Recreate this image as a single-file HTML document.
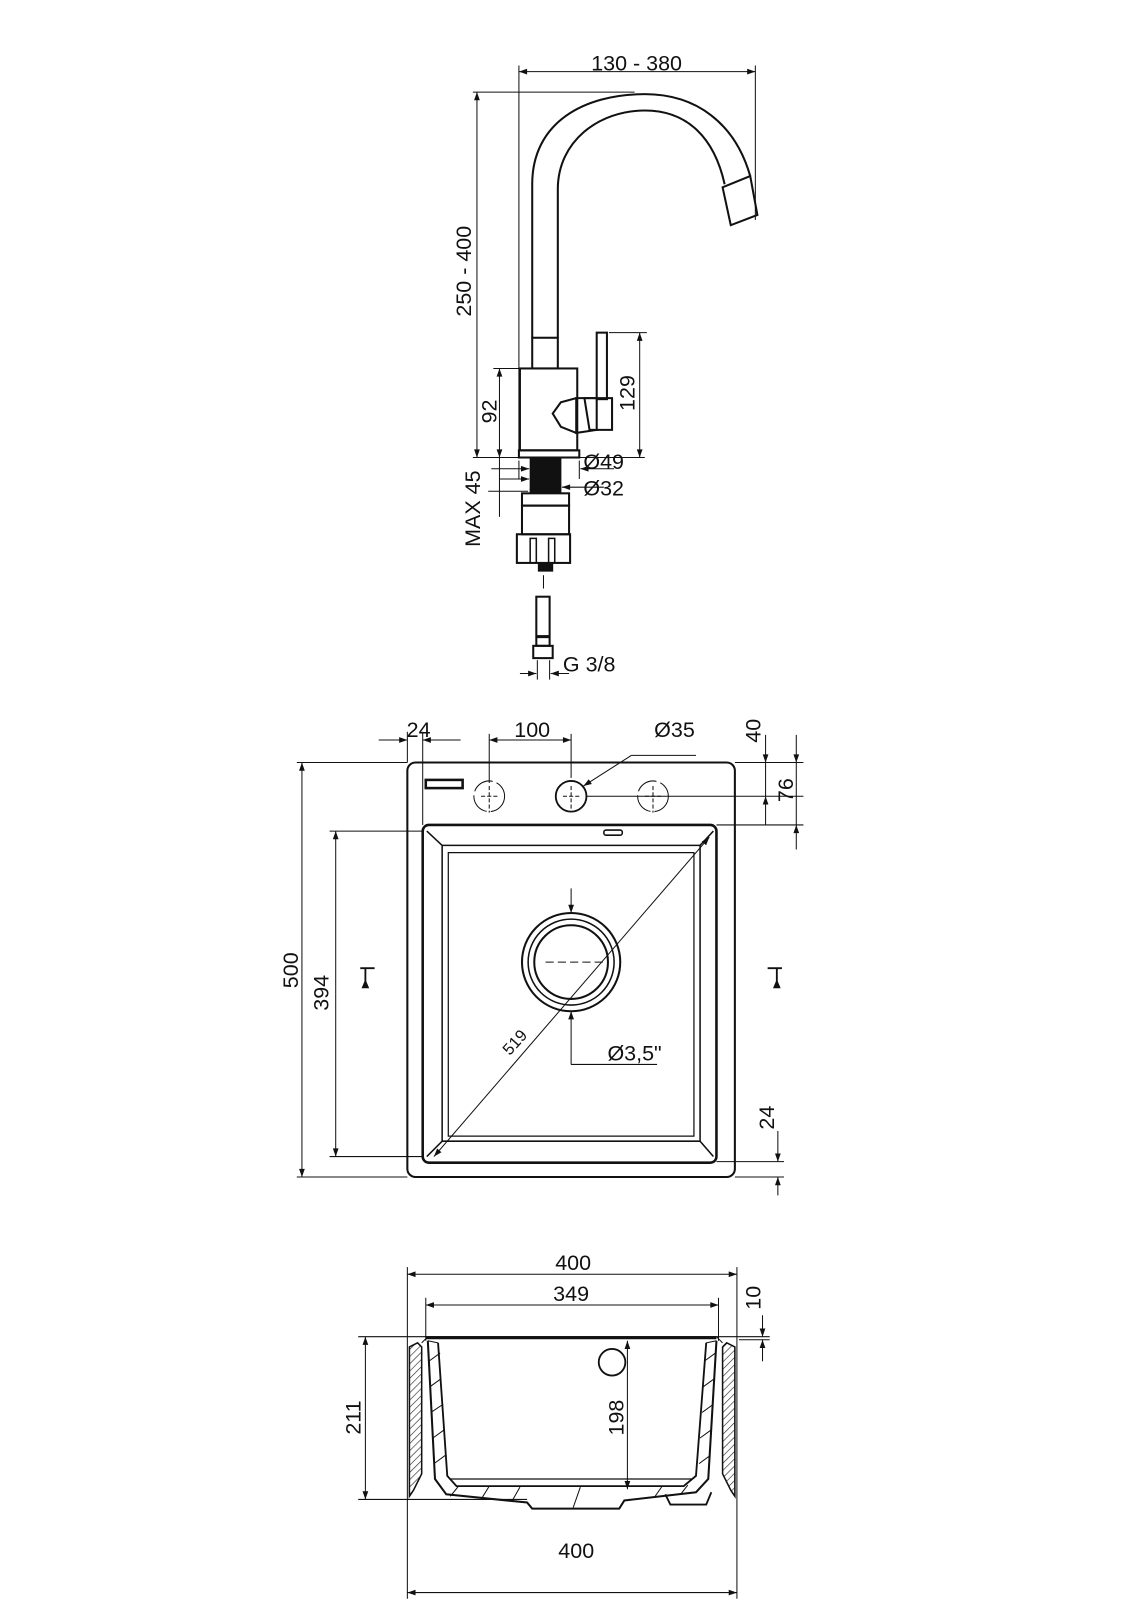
<!DOCTYPE html>
<html><head><meta charset="utf-8"><style>
html,body{margin:0;padding:0;background:#fff}
svg{display:block}
text{font-family:"Liberation Sans Narrow","Liberation Sans",sans-serif;font-size:21px;fill:#111}
</style></head><body>
<svg width="1131" height="1600" viewBox="0 0 1131 1600" xmlns="http://www.w3.org/2000/svg">
<defs>
<marker id="a" viewBox="0 0 10 10" refX="10" refY="5" markerWidth="12" markerHeight="8" orient="auto-start-reverse" markerUnits="userSpaceOnUse"><path d="M0,1.5 L10,5 L0,8.5 z" fill="#111"/></marker>
<pattern id="h" width="5" height="5" patternUnits="userSpaceOnUse" patternTransform="rotate(45)"><line x1="0" y1="0" x2="0" y2="5" stroke="#222" stroke-width="1.2"/></pattern>
</defs>
<g transform="scale(1.0235)">
<g stroke="#111" fill="none" stroke-width="1">
<!-- ===== FAUCET ===== -->
<line x1="507" y1="64" x2="507" y2="440"/>
<line x1="738" y1="64" x2="738" y2="215"/>
<line x1="507" y1="70" x2="738" y2="70" marker-start="url(#a)" marker-end="url(#a)"/>
<line x1="462" y1="90" x2="620" y2="90"/>
<line x1="466" y1="90" x2="466" y2="447" marker-start="url(#a)" marker-end="url(#a)"/>
<line x1="462" y1="447" x2="630" y2="447"/>
<line x1="482" y1="360" x2="508" y2="360"/>
<line x1="488" y1="360" x2="488" y2="447" marker-start="url(#a)" marker-end="url(#a)"/>
<line x1="595" y1="325" x2="632" y2="325"/>
<line x1="625" y1="325" x2="625" y2="447" marker-start="url(#a)" marker-end="url(#a)"/>
<path d="M520,330 L520,180 C520,120 570,92 630,92 C680,92 718,120 733,172" stroke-width="2"/>
<path d="M545,330 L545,185 C545,138 585,108 630,108 C672,108 698,135 708,180" stroke-width="2"/>
<path d="M706,183 L733,172 L740,210 L714,220 Z" stroke-width="2"/>
<rect x="520" y="330" width="25" height="30" stroke-width="2"/>
<rect x="508" y="360" width="56" height="80" stroke-width="2"/>
<rect x="507" y="440" width="59" height="7" stroke-width="2"/>
<rect x="583" y="325" width="10" height="65" stroke-width="2"/>
<path d="M563,389 L583,389 L583,420 L563,423 Z" stroke-width="2"/>
<path d="M571,389 L598,389 L598,420 L576,420 Z" stroke-width="2"/>
<path d="M563,389 L548,393 L540,404 L548,417 L563,423" stroke-width="2"/>
<rect x="518" y="448" width="30" height="30" fill="#111"/>
<line x1="480" y1="458" x2="517" y2="458" marker-end="url(#a)"/>
<line x1="567" y1="458" x2="600" y2="458" marker-start="url(#a)"/>
<line x1="488" y1="468" x2="517" y2="468" marker-end="url(#a)"/>
<line x1="549" y1="476" x2="590" y2="476" marker-start="url(#a)"/>
<line x1="507" y1="450" x2="507" y2="468"/>
<line x1="566" y1="450" x2="566" y2="468"/>
<line x1="477" y1="480" x2="516" y2="480"/>
<line x1="488" y1="447" x2="488" y2="505"/>
<rect x="518" y="478" width="30" height="4" fill="#111"/>
<rect x="510" y="482" width="46" height="12" stroke-width="2"/>
<rect x="510" y="494" width="46" height="28" stroke-width="2"/>
<rect x="505" y="522" width="52" height="28" stroke-width="2"/>
<path d="M518,550 L518,526 L524,526 L524,550 M536,550 L536,526 L542,526 L542,550" stroke-width="1.5"/>
<rect x="526" y="550" width="14" height="8" fill="#111"/>
<line x1="531" y1="562" x2="531" y2="575"/>
<rect x="524" y="583" width="13" height="48" stroke-width="2"/>
<line x1="524" y1="622" x2="537" y2="622" stroke-width="3"/>
<rect x="521" y="631" width="19" height="12" stroke-width="2"/>
<line x1="525" y1="645" x2="525" y2="664"/><line x1="537" y1="645" x2="537" y2="664"/>
<line x1="508" y1="658" x2="524" y2="658" marker-end="url(#a)"/>
<line x1="538" y1="658" x2="556" y2="658" marker-start="url(#a)"/>

<!-- ===== TOP VIEW ===== -->
<rect x="398" y="745" width="320" height="405" rx="8" stroke-width="2"/>
<rect x="413" y="806" width="287" height="330" rx="6" stroke-width="2.5"/>
<path d="M432,826 L684,826 L684,1115 L432,1115 Z" stroke-width="1.5"/>
<path d="M438,833 L678,833 L678,1110 L438,1110 Z" stroke-width="1.2"/>
<path d="M417,812 L432,826 M697,812 L684,826 M417,1130 L432,1115 M697,1130 L684,1115" stroke-width="1.5"/>
<rect x="590" y="811" width="18" height="5" rx="2" stroke-width="1.5"/>
<rect x="416" y="762" width="36" height="8" stroke-width="2.5"/>
<circle cx="478" cy="778" r="15" stroke-dasharray="22 4"/>
<circle cx="558" cy="778" r="15" stroke-width="1.8"/>
<circle cx="638" cy="778" r="15" stroke-dasharray="22 4"/>
<path d="M470,778 L486,778 M478,768 L478,794 M550,778 L566,778 M558,768 L558,790 M630,778 L646,778 M638,768 L638,794" stroke-dasharray="4 2"/>
<line x1="572" y1="778" x2="785" y2="778"/>
<circle cx="558" cy="940" r="48" stroke-width="2"/>
<circle cx="558" cy="940" r="42" stroke-width="1.5"/>
<circle cx="558" cy="940" r="36" stroke-width="2"/>
<line x1="533" y1="940" x2="592" y2="940" stroke-dasharray="8 4"/>
<line x1="558" y1="868" x2="558" y2="892" marker-end="url(#a)"/>
<line x1="558" y1="1040" x2="558" y2="988" marker-end="url(#a)"/>
<line x1="558" y1="1040" x2="642" y2="1040"/>
<line x1="424" y1="1130" x2="693" y2="818" marker-start="url(#a)" marker-end="url(#a)"/>
<line x1="290" y1="745" x2="398" y2="745"/>
<line x1="290" y1="1150" x2="398" y2="1150"/>
<line x1="295" y1="745" x2="295" y2="1150" marker-start="url(#a)" marker-end="url(#a)"/>
<line x1="322" y1="812" x2="414" y2="812"/>
<line x1="322" y1="1130" x2="414" y2="1130"/>
<line x1="328" y1="812" x2="328" y2="1130" marker-start="url(#a)" marker-end="url(#a)"/>
<line x1="398" y1="715" x2="398" y2="745"/>
<line x1="413" y1="715" x2="413" y2="806"/>
<line x1="370" y1="723" x2="398" y2="723" marker-end="url(#a)"/>
<line x1="450" y1="723" x2="413" y2="723" marker-end="url(#a)"/>
<line x1="478" y1="717" x2="478" y2="765"/>
<line x1="558" y1="717" x2="558" y2="760"/>
<line x1="478" y1="723" x2="558" y2="723" marker-start="url(#a)" marker-end="url(#a)"/>
<line x1="680" y1="738" x2="617" y2="738"/>
<line x1="617" y1="738" x2="570" y2="768" marker-end="url(#a)"/>
<line x1="718" y1="745" x2="785" y2="745"/>
<line x1="700" y1="806" x2="785" y2="806"/>
<line x1="748" y1="718" x2="748" y2="745" marker-end="url(#a)"/>
<line x1="748" y1="745" x2="748" y2="778"/>
<line x1="748" y1="806" x2="748" y2="778" marker-end="url(#a)"/>
<line x1="778" y1="718" x2="778" y2="745" marker-end="url(#a)"/>
<line x1="778" y1="745" x2="778" y2="806"/>
<line x1="778" y1="830" x2="778" y2="806" marker-end="url(#a)"/>
<line x1="700" y1="1135" x2="766" y2="1135"/>
<line x1="718" y1="1150" x2="766" y2="1150"/>
<line x1="760" y1="1105" x2="760" y2="1135" marker-end="url(#a)"/>
<line x1="760" y1="1168" x2="760" y2="1150" marker-end="url(#a)"/>
<path d="M352,946 L366,946 M357,946 L357,965" stroke-width="1.8"/>
<path d="M357,958 L354,965 L360,965 Z" fill="#111"/>
<path d="M750,946 L764,946 M759,946 L759,965" stroke-width="1.8"/>
<path d="M759,958 L756,965 L762,965 Z" fill="#111"/>

<!-- ===== SECTION ===== -->
<line x1="398" y1="1238" x2="398" y2="1306"/>
<line x1="720" y1="1238" x2="720" y2="1306"/>
<line x1="398" y1="1245" x2="720" y2="1245" marker-start="url(#a)" marker-end="url(#a)"/>
<line x1="416" y1="1268" x2="416" y2="1310"/>
<line x1="702" y1="1268" x2="702" y2="1310"/>
<line x1="416" y1="1275" x2="702" y2="1275" marker-start="url(#a)" marker-end="url(#a)"/>
<line x1="350" y1="1306" x2="752" y2="1306"/>
<line x1="722" y1="1309" x2="752" y2="1309"/>
<line x1="745" y1="1285" x2="745" y2="1306" marker-end="url(#a)"/>
<line x1="745" y1="1330" x2="745" y2="1309" marker-end="url(#a)"/>
<line x1="357" y1="1306" x2="357" y2="1465" marker-start="url(#a)" marker-end="url(#a)"/>
<line x1="350" y1="1465" x2="515" y2="1465"/>
<line x1="613" y1="1310" x2="613" y2="1455" marker-start="url(#a)" marker-end="url(#a)"/>
<circle cx="598" cy="1331" r="13" stroke-width="1.8"/>
<path d="M400,1316 L408,1312 L412,1316 L412,1440 L404,1456 L400,1462 Z" fill="url(#h)" stroke-width="1.5"/>
<path d="M718,1316 L710,1312 L706,1316 L706,1440 L714,1456 L718,1462 Z" fill="url(#h)" stroke-width="1.5"/>
<path d="M398,1306 L398,1562 M720,1306 L720,1562"/>
<path d="M412,1312 L418,1306 M706,1312 L700,1306"/>
<path d="M416,1307 L700,1307" stroke-width="3"/>
<path d="M418,1310 L425,1445 L436,1460 L515,1468 L520,1474 L605,1474 L610,1466 L680,1458 L692,1445 L700,1310" stroke-width="2"/>
<path d="M428,1312 L437,1442 L446,1452 L668,1452 L680,1442 L690,1312" stroke-width="1.8"/>
<path d="M440,1445 L676,1445" stroke-width="1.2"/>
<path d="M418,1310 L428,1312 M700,1310 L690,1312"/>
<path d="M419,1330 L430,1322 M420,1355 L431,1347 M421,1380 L433,1372 M423,1405 L434,1397 M424,1430 L435,1422 M440,1462 L448,1452 M470,1465 L478,1452 M500,1467 L508,1453 M560,1473 L567,1453 M640,1462 L647,1452 M665,1460 L672,1451 M688,1330 L699,1322 M687,1355 L698,1347 M686,1380 L697,1372 M684,1405 L695,1397 M683,1430 L694,1422"/>
<path d="M650,1460 L655,1470 L690,1470 L695,1458" stroke-width="1.8"/>
<line x1="398" y1="1556" x2="720" y2="1556" marker-start="url(#a)" marker-end="url(#a)"/>
</g>
<text x="622" y="69" text-anchor="middle">130 - 380</text>
<text transform="translate(460,265) rotate(-90)" text-anchor="middle">250 - 400</text>
<text transform="translate(485,402) rotate(-90)" text-anchor="middle">92</text>
<text transform="translate(620,384) rotate(-90)" text-anchor="middle">129</text>
<text x="570" y="458">Ø49</text>
<text x="570" y="484">Ø32</text>
<text transform="translate(469,497) rotate(-90)" text-anchor="middle">MAX 45</text>
<text x="550" y="656">G 3/8</text>
<text x="409" y="720" text-anchor="middle">24</text>
<text x="520" y="720" text-anchor="middle">100</text>
<text x="659" y="720" text-anchor="middle">Ø35</text>
<text transform="translate(743,714) rotate(-90)" text-anchor="middle">40</text>
<text transform="translate(775,772) rotate(-90)" text-anchor="middle">76</text>
<text transform="translate(291,948) rotate(-90)" text-anchor="middle">500</text>
<text transform="translate(321,970) rotate(-90)" text-anchor="middle">394</text>
<text transform="translate(507,1022) rotate(-48)" text-anchor="middle" style="font-size:16px">519</text>
<text x="620" y="1036" text-anchor="middle">Ø3,5"</text>
<text transform="translate(756,1092) rotate(-90)" text-anchor="middle">24</text>
<text x="560" y="1241" text-anchor="middle">400</text>
<text x="558" y="1271" text-anchor="middle">349</text>
<text transform="translate(743,1268) rotate(-90)" text-anchor="middle">10</text>
<text transform="translate(352,1385) rotate(-90)" text-anchor="middle">211</text>
<text transform="translate(609,1385) rotate(-90)" text-anchor="middle">198</text>
<text x="563" y="1522" text-anchor="middle">400</text>
</g>
</svg>
</body></html>
